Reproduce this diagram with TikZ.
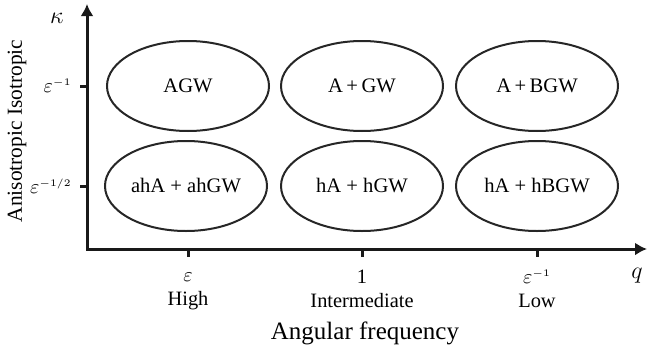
\documentclass[tikz,border=0pt]{standalone}
\usepackage{fontspec}
\setmainfont{Liberation Serif}
\usepackage{tikz}
\usetikzlibrary{shapes,arrows.meta,positioning}

\begin{document}
\begin{tikzpicture}[x=0.5pt, y=-0.5pt, >={Latex[length=6pt,width=6.5pt]}]
    \tikzstyle{regime} = [ellipse, draw=black!85, line width=1pt, minimum width=81pt, minimum height=45pt, inner sep=0pt, font=\fontsize{10.3}{12}\selectfont]
    \tikzstyle{axis} = [line width=1.5pt, black!90]
    \tikzstyle{tick} = [line width=1.5pt, black!90]
    \tikzstyle{ticklabel} = [inner sep=0pt, font=\fontsize{10.2}{12}\selectfont]

    \useasboundingbox (0,0) rectangle (647,348);

    % axes
    \coordinate (origin) at (87,249);
    \coordinate (ytop) at (87,4);
    \coordinate (xend) at (647,249);
    \draw[axis,<->] (ytop) -- (origin) -- (xend);

    % regimes
    \node[regime] (agw) at (188,86) {AGW};
    \node[regime] (agw-mid) at (362,86) {A\,+\,GW};
    \node[regime] (abgw) at (537,86) {A\,+\,BGW};
    \node[regime] (ahgw) at (186,186) {ahA + ahGW};
    \node[regime] (hgw) at (362,186) {hA + hGW};
    \node[regime] (hbgw) at (537,186) {hA + hBGW};

    % vertical ticks
    \coordinate (ky1) at (87,86);
    \coordinate (ky2) at (87,186);
    \draw[tick] (ky1) -- ++(-7,0);
    \draw[tick] (ky2) -- ++(-7,0);
    \node[ticklabel, anchor=east] (klo) at (72,86) {$\varepsilon^{\scriptscriptstyle -1}$};
    \node[ticklabel, anchor=east] (khi) at (72,186) {$\varepsilon^{\scriptscriptstyle -1/2}$};
    \node[ticklabel, font=\fontsize{13}{14}\selectfont] (kappa) at (57,18) {$\kappa$};
    \node[rotate=90, font=\fontsize{10.7}{12}\selectfont] (kaxis) at (17,131) {Anisotropic Isotropic};

    % horizontal ticks
    \coordinate (qx1) at (188,249);
    \coordinate (qx2) at (362,249);
    \coordinate (qx3) at (537,249);
    \draw[tick] (qx1) -- ++(0,8);
    \draw[tick] (qx2) -- ++(0,8);
    \draw[tick] (qx3) -- ++(0,8);
    \node[ticklabel] (qeps) at (188,277) {$\varepsilon$};
    \node[ticklabel] (qone) at (362,277) {1};
    \node[ticklabel] (qinv) at (537,277) {$\varepsilon^{\scriptscriptstyle -1}$};
    \node[ticklabel] (high) at (188,301) {High};
    \node[ticklabel] (inter) at (362,301) {Intermediate};
    \node[ticklabel] (low) at (537,301) {Low};
    \node[ticklabel, font=\fontsize{12.5}{14}\selectfont] (q) at (637,276) {$q$};
    \node[inner sep=0pt, font=\fontsize{12.5}{14}\selectfont] (qaxis) at (365,333) {Angular frequency};
\end{tikzpicture}
\end{document}
